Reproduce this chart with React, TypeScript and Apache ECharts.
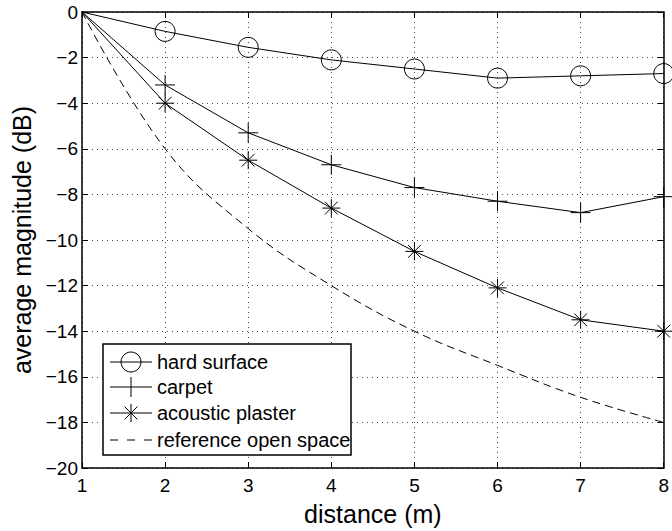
import React, { useEffect, useRef } from "react";
import * as echarts from "echarts";

const distances = [1, 2, 3, 4, 5, 6, 7, 8];
const hardSurface = [0, -0.85, -1.55, -2.1, -2.5, -2.9, -2.8, -2.7];
const carpet = [0, -3.2, -5.3, -6.7, -7.7, -8.3, -8.8, -8.1];
const acousticPlaster = [0, -4.0, -6.5, -8.6, -10.5, -12.1, -13.5, -14.0];
const referenceOpenSpace = [0, -6.0, -9.5, -12.0, -14.0, -15.5, -16.9, -18.0];
const seriesNames = ["hard surface", "carpet", "acoustic plaster", "reference open space"];

const PLUS = "path://M10,0L10,20M0,10L20,10";
const STAR = "path://M10,0L10,20M0,10L20,10M2.93,2.93L17.07,17.07M17.07,2.93L2.93,17.07";

const FONT = "'Liberation Sans', Arial, Helvetica, sans-serif";

function pts(vals: number[], markFirst: boolean) {
  return vals.map((v, i) =>
    i === 0 && !markFirst ? { value: [distances[i], v], symbol: "none" } : { value: [distances[i], v] }
  );
}

export default function App() {
  const ref = useRef<HTMLDivElement>(null);
  useEffect(() => {
    if (!ref.current) return;
    const chart = echarts.init(ref.current, undefined, { renderer: "svg" });
    const gridLine = { show: true, lineStyle: { color: "#444", type: [1, 4] as any, width: 1 } };
    const axisLine = { show: true, onZero: false, lineStyle: { color: "#000", width: 1.5 } };
    const tick = { show: true, inside: true, length: 6, lineStyle: { color: "#000", width: 1 } };
    const minus = (v: number) => String(v).replace("-", "\u2212");

    const lx = 110, lw = 42, tx = 157;
    const rowsY = [362, 387, 413, 440];
    const legendGraphics: any[] = [
      { type: "rect", shape: { x: 103, y: 344, width: 248, height: 111 }, style: { fill: "#fff", stroke: "#000", lineWidth: 1.5 }, z: 100 },
    ];
    rowsY.forEach((y, i) => {
      legendGraphics.push({
        type: "line",
        shape: { x1: lx, y1: y, x2: lx + lw, y2: y },
        style: { stroke: "#000", lineWidth: 1, lineDash: i === 3 ? [8, 9] : null },
        z: 101,
      });
      legendGraphics.push({
        type: "text",
        x: tx,
        y,
        style: { text: seriesNames[i], font: `20px ${FONT}`, fill: "#000", verticalAlign: "middle", align: "left" },
        z: 101,
      });
    });
    const cx = lx + lw / 2;
    legendGraphics.push({ type: "circle", shape: { cx, cy: rowsY[0], r: 10 }, style: { fill: "none", stroke: "#000", lineWidth: 1 }, z: 101 });
    legendGraphics.push({ type: "line", shape: { x1: cx, y1: rowsY[1] - 10, x2: cx, y2: rowsY[1] + 10 }, style: { stroke: "#000", lineWidth: 1 }, z: 101 });
    [[0, 9], [6.4, 6.4], [-6.4, 6.4]].forEach(([dx, dy]) => {
      legendGraphics.push({ type: "line", shape: { x1: cx - dx, y1: rowsY[2] - dy, x2: cx + dx, y2: rowsY[2] + dy }, style: { stroke: "#000", lineWidth: 1 }, z: 101 });
    });

    chart.setOption({
      animation: false,
      backgroundColor: "#fff",
      textStyle: { fontFamily: FONT },
      grid: { left: 82, right: 4, top: 12, bottom: 56, containLabel: false },
      xAxis: [
        {
          type: "value", min: 1, max: 8, interval: 1, position: "bottom",
          axisLine, axisTick: tick, splitLine: gridLine,
          axisLabel: { color: "#000", fontSize: 19, margin: 8 },
          name: "distance (m)", nameLocation: "middle", nameGap: 33,
          nameTextStyle: { color: "#000", fontSize: 25 },
        },
        {
          type: "value", min: 1, max: 8, interval: 1, position: "top",
          axisLine, axisTick: tick, splitLine: { show: false }, axisLabel: { show: false },
        },
      ],
      yAxis: [
        {
          type: "value", min: -20, max: 0, interval: 2, position: "left",
          axisLine, axisTick: tick, splitLine: gridLine,
          axisLabel: { color: "#000", fontSize: 19, margin: 4, formatter: minus },
          name: "average magnitude (dB)", nameLocation: "middle", nameGap: 46,
          nameTextStyle: { color: "#000", fontSize: 25 },
        },
        {
          type: "value", min: -20, max: 0, interval: 2, position: "right",
          axisLine, axisTick: tick, splitLine: { show: false }, axisLabel: { show: false },
        },
      ],
      series: [
        {
          name: seriesNames[0], type: "line", data: pts(hardSurface, false),
          symbol: "circle", symbolSize: 20, clip: false,
          lineStyle: { color: "#000", width: 1 },
          itemStyle: { color: "rgba(0,0,0,0)", borderColor: "#000", borderWidth: 1 },
        },
        {
          name: seriesNames[1], type: "line", data: pts(carpet, false),
          symbol: PLUS, symbolSize: 20,
          lineStyle: { color: "#000", width: 1 },
          itemStyle: { color: "none", borderColor: "#000", borderWidth: 1 },
        },
        {
          name: seriesNames[2], type: "line", data: pts(acousticPlaster, false),
          symbol: STAR, symbolSize: 18,
          lineStyle: { color: "#000", width: 1 },
          itemStyle: { color: "none", borderColor: "#000", borderWidth: 1 },
        },
        {
          name: seriesNames[3], type: "line", data: pts(referenceOpenSpace, true),
          symbol: "none", smooth: 0.4,
          lineStyle: { color: "#000", width: 1, type: [8, 5] },
        },
      ],
      graphic: legendGraphics,
    });
    return () => chart.dispose();
  }, []);
  return <div ref={ref} style={{ width: 672, height: 531, position: "absolute", left: 0, top: 0 }} />;
}
